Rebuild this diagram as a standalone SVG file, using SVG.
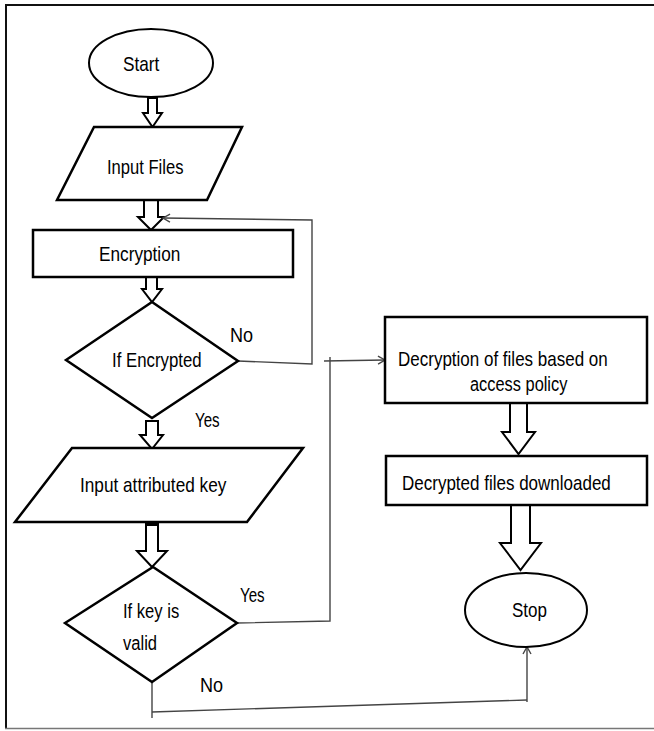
<svg xmlns="http://www.w3.org/2000/svg" width="654" height="731" viewBox="0 0 654 731">
<defs>
<style>
.shape{fill:#fff;stroke:#000;stroke-width:2.5}
.ell{fill:#fff;stroke:#000;stroke-width:2}
.blk{fill:#fff;stroke:#000;stroke-width:2;stroke-linejoin:miter}
.con{fill:none;stroke:#444;stroke-width:1.4}
.t{font-family:"Liberation Sans",Arial,sans-serif;font-size:21px;fill:#000}
</style>
<marker id="open" markerWidth="10" markerHeight="10" refX="8" refY="5" orient="auto" markerUnits="userSpaceOnUse">
<path d="M1,1 L8,5 L1,9" fill="none" stroke="#444" stroke-width="1.4"/>
</marker>
</defs>
<rect width="654" height="731" fill="#fff"/>
<g id="frame">
<line x1="5" y1="5" x2="654" y2="5" stroke="#111" stroke-width="2"/>
<line x1="6" y1="4" x2="6" y2="729" stroke="#111" stroke-width="2"/>
<line x1="5" y1="728.5" x2="654" y2="728.5" stroke="#777" stroke-width="1.5"/>
</g>
<g id="connectors">
<polygon class="blk" points="148,98 157,98 157,113 162,113 152.5,127 143,113 148,113"/>
<polygon class="blk" points="144,200 158,200 158,217 164,217 151,230 138,217 144,217"/>
<polygon class="blk" points="146,277 157,277 157,289 162,289 152,302 142,289 146,289"/>
<polygon class="blk" points="146,421 158,421 158,435 163,435 152,449 140,435 146,435"/>
<polygon class="blk" points="146,522 158,522 158,551 167,551 152,567 137,551 146,551"/>
<rect x="146" y="521" width="12" height="5" fill="#000"/>
<polygon class="blk" points="510,403 527,403 527,432 535,432 518.5,454 502,432 510,432"/>
<polygon class="blk" points="511,505 530,505 530,543 541,543 520.5,570 500,543 511,543"/>
<polyline class="con" points="238,361 312,364 312,220 163,218" marker-end="url(#open)"/>
<polyline class="con" points="237,623 330,621 330,357"/>
<line class="con" x1="324" y1="361" x2="385" y2="360" marker-end="url(#open)"/>
<line class="con" x1="152" y1="682" x2="152" y2="718"/>
<line class="con" x1="152" y1="712" x2="527" y2="700"/>
<line class="con" x1="527" y1="702" x2="527" y2="647" marker-end="url(#open)"/>
</g>
<g id="start">
<ellipse class="ell" cx="151" cy="63" rx="62" ry="34"/>
<text class="t" transform="matrix(0.82,0,0,1,123,71)">Start</text>
</g>
<g id="input-files">
<polygon class="shape" points="94,127 242,127 207,200 57,200"/>
<text class="t" transform="matrix(0.79,0,0,1,107,174)">Input Files</text>
</g>
<g id="encryption">
<rect class="shape" x="33" y="230" width="260" height="47"/>
<text class="t" transform="matrix(0.82,0,0,1,99,261)">Encryption</text>
</g>
<g id="if-encrypted">
<polygon class="shape" points="66,360 152,302 238,361 152,418"/>
<text class="t" transform="matrix(0.8,0,0,1,112,367)">If Encrypted</text>
</g>
<g id="labels">
<text class="t" transform="matrix(0.86,0,0,1,230,342)">No</text>
<text class="t" transform="matrix(0.72,0,0,1,195,427)">Yes</text>
<text class="t" transform="matrix(0.72,0,0,1,240,602)">Yes</text>
<text class="t" transform="matrix(0.86,0,0,1,200,692)">No</text>
</g>
<g id="input-key">
<polygon class="shape" points="72,448 303,448 247,522 15,522"/>
<text class="t" transform="matrix(0.82,0,0,1,80,492)">Input attributed key</text>
</g>
<g id="key-valid">
<polygon class="shape" points="65,623 153,567 237,623 152,682"/>
<text class="t" transform="matrix(0.79,0,0,1,123,618)">If key is</text>
<text class="t" transform="matrix(0.79,0,0,1,123,650)">valid</text>
</g>
<g id="decryption">
<rect class="shape" x="385" y="317" width="262" height="86"/>
<text class="t" transform="matrix(0.81,0,0,1,398,366)">Decryption of files based on</text>
<text class="t" transform="matrix(0.78,0,0,1,470,391)">access policy</text>
</g>
<g id="downloaded">
<rect class="shape" x="386" y="456" width="261" height="49"/>
<text class="t" transform="matrix(0.81,0,0,1,402,490)">Decrypted files downloaded</text>
</g>
<g id="stop">
<ellipse class="ell" cx="526" cy="610" rx="61" ry="37"/>
<text class="t" transform="matrix(0.81,0,0,1,512,617)">Stop</text>
</g>
</svg>
